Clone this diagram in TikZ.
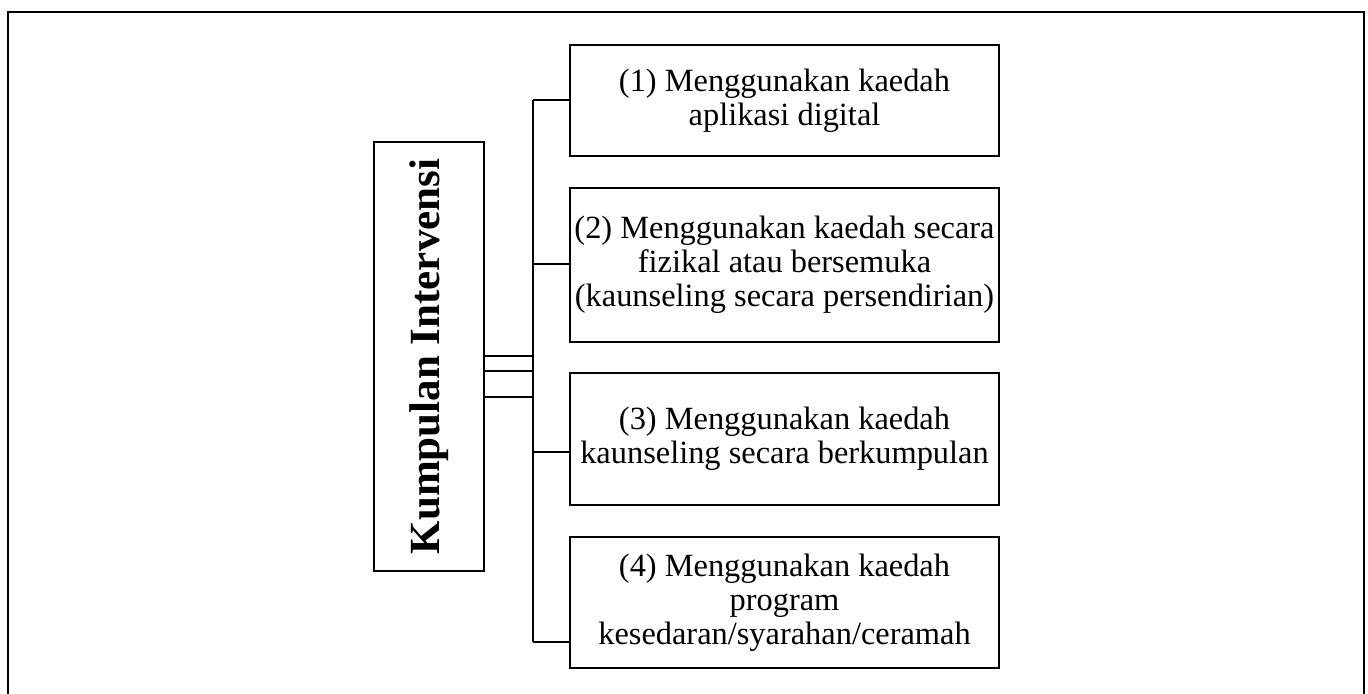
\documentclass[tikz,border=0pt]{standalone}
\usepackage{fontspec}
\setmainfont{Liberation Serif}
\begin{document}
\begin{tikzpicture}[x=0.5pt,y=-0.5pt,
  itembox/.style={draw,line width=1.4pt,minimum width=214.5pt,inner sep=0pt,align=center,font=\fontsize{16.2}{17}\selectfont},
  conn/.style={line width=1.4pt}]
\useasboundingbox (0,0) rectangle (1368,693);
\draw[line width=1.4pt] (8,700) -- (8,12) -- (1364,12) -- (1364,700);
\node[draw,line width=1.4pt,minimum width=55pt,minimum height=214.5pt,inner sep=0pt] (L) at (429,356.5) {};
\node[rotate=90,font=\fontsize{21.5}{24}\selectfont\bfseries] (Lt) at (L.center) {Kumpulan Intervensi};
\node[itembox,minimum height=55.5pt] (b1) at (784.5,100.5) {(1) Menggunakan kaedah\\aplikasi digital};
\node[itembox,minimum height=77pt] (b2) at (784.5,265) {(2) Menggunakan kaedah secara\\fizikal atau bersemuka\\(kaunseling secara persendirian)};
\node[itembox,minimum height=66pt] (b3) at (784.5,439) {(3) Menggunakan kaedah\\kaunseling secara berkumpulan};
\node[itembox,minimum height=65.5pt] (b4) at (784.5,602.5) {(4) Menggunakan kaedah\\program\\kesedaran/syarahan/ceramah};
\coordinate (s1) at (533,100);
\coordinate (s2) at (533,264);
\coordinate (s3) at (533,452);
\coordinate (s4) at (533,642);
\coordinate (h1) at (533,356);
\coordinate (h2) at (533,371);
\coordinate (h3) at (533,397);
\draw[conn] (s1) -- (s4);
\draw[conn] (s1) -- (s1 -| b1.west);
\draw[conn] (s2) -- (s2 -| b2.west);
\draw[conn] (s3) -- (s3 -| b3.west);
\draw[conn] (s4) -- (s4 -| b4.west);
\draw[conn] (h1 -| L.east) -- (h1);
\draw[conn] (h2 -| L.east) -- (h2);
\draw[conn] (h3 -| L.east) -- (h3);
\end{tikzpicture}
\end{document}
